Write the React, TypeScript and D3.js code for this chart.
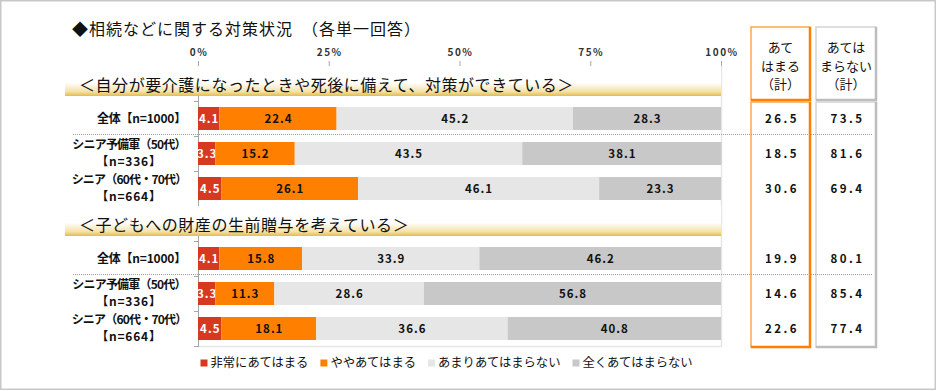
import React, { useEffect, useRef } from 'react';
import * as d3 from 'd3';

// Chart data
const titleText = '◆相続などに関する対策状況　（各単一回答）';
const segmentNames = ['非常にあてはまる', 'ややあてはまる', 'あまりあてはまらない', '全くあてはまらない'];
const segmentColors = ['#d6391f', '#ff8000', '#e6e6e6', '#c8c8c8'];
const segmentTextColors = ['#ffffff', '#111111', '#111111', '#111111'];
const sectionTitles = [
  '＜自分が要介護になったときや死後に備えて、対策ができている＞',
  '＜子どもへの財産の生前贈与を考えている＞',
];
const groupLabels = [
  ['全体【n=1000】'],
  ['シニア予備軍（50代）', '【n=336】'],
  ['シニア（60代・70代）', '【n=664】'],
];
const careValues = [
  [4.1, 22.4, 45.2, 28.3],
  [3.3, 15.2, 43.5, 38.1],
  [4.5, 26.1, 46.1, 23.3],
];
const giftValues = [
  [4.1, 15.8, 33.9, 46.2],
  [3.3, 11.3, 28.6, 56.8],
  [4.5, 18.1, 36.6, 40.8],
];
const careApplies = [26.5, 18.5, 30.6];
const careNotApplies = [73.5, 81.6, 69.4];
const giftApplies = [19.9, 14.6, 22.6];
const giftNotApplies = [80.1, 85.4, 77.4];
const percentTicks = [0, 25, 50, 75, 100];
const appliesHeader = ['あて', 'はまる', '（計）'];
const notAppliesHeader = ['あては', 'まらない', '（計）'];

const width = 940;
const height = 391;
const FONT = "'Noto Sans CJK JP', 'Noto Sans', sans-serif";

export default function App() {
  const svgRef = useRef<SVGSVGElement>(null);

  useEffect(() => {
    if (!svgRef.current) return;
    const svg = d3.select(svgRef.current);
    svg.selectAll('*').remove();

    const sections = [
      { title: sectionTitles[0], values: careValues, yes: careApplies, no: careNotApplies },
      { title: sectionTitles[1], values: giftValues, yes: giftApplies, no: giftNotApplies },
    ];
    const keys: string[] = [];
    sections.forEach((_, si) => {
      keys.push(`h${si}`);
      groupLabels.forEach((__, ri) => keys.push(`r${si}-${ri}`));
    });

    const x = d3.scaleLinear().domain([0, 100]).range([198, 721]);
    const y = d3.scaleBand().domain(keys).range([66, 346]);
    const bw = y.bandwidth();
    const barH = 23;
    const [plotTop, plotBottom] = y.range();

    // gradient for section headers
    const defs = svg.append('defs');
    const grad = defs.append('linearGradient')
      .attr('id', 'hdrGrad').attr('x1', 0).attr('y1', 0).attr('x2', 0).attr('y2', 1);
    grad.append('stop').attr('offset', '0%').attr('stop-color', '#ffffff');
    grad.append('stop').attr('offset', '55%').attr('stop-color', '#ffffff');
    grad.append('stop').attr('offset', '85%').attr('stop-color', '#f4e2a8');
    grad.append('stop').attr('offset', '100%').attr('stop-color', '#e4bb4c');

    // outer frame
    svg.append('rect')
      .attr('x', 0.75).attr('y', 0.75)
      .attr('width', 934.5).attr('height', 388.5)
      .attr('fill', '#fff').attr('stroke', '#c8c8c8').attr('stroke-width', 1.5);

    // title
    svg.append('text')
      .attr('x', 72).attr('y', 34.5)
      .attr('font-family', FONT).attr('font-size', '16px').attr('letter-spacing', '1px')
      .attr('fill', '#111')
      .text(titleText);

    // plot light border (right/bottom)
    svg.append('path')
      .attr('d', `M${x(100) + 0.5},${plotTop}V${plotBottom + 0.5}H${x(0)}`)
      .attr('fill', 'none').attr('stroke', '#e6e6e6').attr('stroke-width', 1.5);

    // axes
    const axisColor = '#a6a6a6';
    svg.append('line')
      .attr('x1', x(0)).attr('x2', x(100)).attr('y1', plotTop + 0.5).attr('y2', plotTop + 0.5)
      .attr('stroke', axisColor);
    svg.append('line')
      .attr('x1', x(0) + 0.5).attr('x2', x(0) + 0.5).attr('y1', plotTop).attr('y2', plotBottom + 1)
      .attr('stroke', axisColor);
    percentTicks.forEach(t => {
      svg.append('line')
        .attr('x1', x(t) + 0.5).attr('x2', x(t) + 0.5)
        .attr('y1', plotTop - 5).attr('y2', plotTop)
        .attr('stroke', axisColor);
      svg.append('text')
        .attr('x', x(t) + 1).attr('y', 56)
        .attr('text-anchor', 'middle')
        .attr('font-family', FONT).attr('font-size', '10px').attr('font-weight', 'bold')
        .attr('letter-spacing', '1.5px').attr('fill', '#333')
        .text(`${t}%`);
    });
    keys.forEach(k => {
      const yy = (y(k) as number) + bw;
      svg.append('line')
        .attr('x1', x(0) - 4).attr('x2', x(0))
        .attr('y1', yy + 0.5).attr('y2', yy + 0.5)
        .attr('stroke', axisColor);
    });

    // right-hand boxes
    const boxes = [
      { x0: 751, x1: 810, light: '#ffa64d', dark: '#ff8000', header: appliesHeader, key: 'yes' as const },
      { x0: 816, x1: 876, light: '#d4d4d4', dark: '#bdbdbd', header: notAppliesHeader, key: 'no' as const },
    ];
    const firstRowTop = y('r0-0') as number;
    boxes.forEach(b => {
      const parts = [[27, firstRowTop - 1], [firstRowTop + 1, plotBottom + 1]];
      parts.forEach(([t, bt]) => {
        svg.append('rect')
          .attr('x', b.x0).attr('y', t).attr('width', b.x1 - b.x0).attr('height', bt - t)
          .attr('fill', '#fff').attr('stroke', b.light).attr('stroke-width', 1.5);
        svg.append('path')
          .attr('d', `M${b.x1},${t}V${bt}H${b.x0}`)
          .attr('fill', 'none').attr('stroke', b.dark).attr('stroke-width', 2.5);
      });
      const cx = (b.x0 + b.x1) / 2;
      b.header.forEach((line, i) => {
        svg.append('text')
          .attr('x', cx).attr('y', 52 + i * 18.5)
          .attr('text-anchor', 'middle')
          .attr('font-family', FONT).attr('font-size', '13px').attr('fill', '#111')
          .text(line);
      });
    });

    // sections
    sections.forEach((s, si) => {
      const hy = y(`h${si}`) as number;
      svg.append('rect')
        .attr('x', 65).attr('y', hy).attr('width', x(100) - 65).attr('height', 30)
        .attr('fill', 'url(#hdrGrad)');
      svg.append('text')
        .attr('x', 79).attr('y', hy + 25)
        .attr('font-family', FONT).attr('font-size', '16px').attr('letter-spacing', '0.55px')
        .attr('fill', '#111')
        .text(s.title);

      s.values.forEach((vals, ri) => {
        const key = `r${si}-${ri}`;
        const top = y(key) as number;
        const cy = top + bw / 2;
        const by = cy - barH / 2;
        const ends = d3.cumsum(vals);

        vals.forEach((v, i) => {
          const x0 = x(ends[i] - v);
          const x1 = x(ends[i]);
          svg.append('rect')
            .attr('x', x0).attr('y', by).attr('width', x1 - x0).attr('height', barH)
            .attr('fill', segmentColors[i]);
          svg.append('text')
            .attr('x', (x0 + x1) / 2 + 0.5).attr('y', cy)
            .attr('dy', '0.36em')
            .attr('text-anchor', 'middle')
            .attr('font-family', FONT).attr('font-size', '11.5px').attr('font-weight', 'bold')
            .attr('letter-spacing', '1px')
            .attr('fill', segmentTextColors[i])
            .text(v.toFixed(1));
        });

        // category label
        const lines = groupLabels[ri];
        if (lines.length === 1) {
          svg.append('text')
            .attr('x', 186).attr('y', cy).attr('dy', '0.36em')
            .attr('text-anchor', 'end')
            .attr('font-family', FONT).attr('font-size', '12px').attr('font-weight', 'bold')
            .attr('letter-spacing', '-0.2px').attr('fill', '#111')
            .text(lines[0]);
        } else {
          lines.forEach((line, li) => {
            svg.append('text')
              .attr('x', 129).attr('y', cy + (li === 0 ? -8.5 : 8.5)).attr('dy', '0.36em')
              .attr('text-anchor', 'middle')
              .attr('font-family', FONT).attr('font-size', '12px').attr('font-weight', 'bold')
              .attr('letter-spacing', li === 0 ? '-0.8px' : '0.8px').attr('fill', '#111')
              .text(line);
          });
        }

        // totals in boxes
        boxes.forEach(b => {
          const val = b.key === 'yes' ? s.yes[ri] : s.no[ri];
          svg.append('text')
            .attr('x', (b.x0 + b.x1) / 2 + 1.5).attr('y', cy).attr('dy', '0.36em')
            .attr('text-anchor', 'middle')
            .attr('font-family', FONT).attr('font-size', '11.5px').attr('font-weight', 'bold')
            .attr('letter-spacing', '2.5px').attr('fill', '#111')
            .text(val.toFixed(1));
        });

        // dotted separator after the overall row
        if (ri === 0) {
          const sy = top + bw - 1.5;
          svg.append('line')
            .attr('x1', 73).attr('x2', 872).attr('y1', sy).attr('y2', sy)
            .attr('stroke', '#a0a0a0').attr('stroke-width', 1).attr('stroke-dasharray', '1,1');
        }
      });
    });

    // legend
    let lx = 200.5;
    const ly = 363;
    segmentNames.forEach((name, i) => {
      svg.append('rect')
        .attr('x', lx).attr('y', ly - 3.5).attr('width', 7).attr('height', 7)
        .attr('fill', segmentColors[i]);
      const t = svg.append('text')
        .attr('x', lx + 10).attr('y', ly).attr('dy', '0.36em')
        .attr('font-family', FONT).attr('font-size', '12.3px').attr('fill', '#111')
        .text(name);
      const w = (t.node() as SVGTextElement).getComputedTextLength();
      lx = lx + 10 + w + 12;
    });
  }, []);

  return (
    <svg
      ref={svgRef}
      width={width}
      height={height}
      style={{ position: 'absolute', left: 0, top: 0, display: 'block', background: '#fff' }}
    />
  );
}
